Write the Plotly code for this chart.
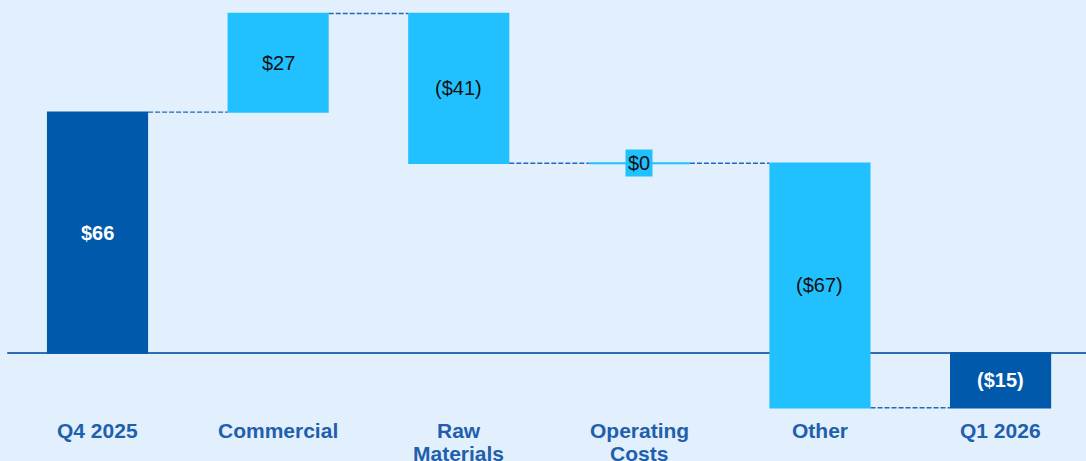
import plotly.graph_objects as go

# Bridge from Q4 2025 to Q1 2026 ($ millions)
categories = ["Q4 2025", "Commercial", "Raw<br>Materials", "Operating<br>Costs", "Other", "Q1 2026"]
measures = ["absolute", "relative", "relative", "relative", "relative", "total"]
values = [66, 27, -41, 0, -67, -15]
value_labels = ["$66", "$27", "($41)", "$0", "($67)", "($15)"]

DARK = "#0059AA"
CYAN = "#21C1FF"
AXIS_BLUE = "#2E6DB4"
CONNECTOR_BLUE = "#2468B8"
LABEL_BLUE = "#1F5FAD"
BG = "#E2EFFC"
BAR_W = 0.56

xs = list(range(len(categories)))

# running start/end of each bar
starts, ends = [], []
running = 0
for m, v in zip(measures, values):
    if m == "absolute":
        s, e = 0, v
        running = v
    elif m == "total":
        s, e = 0, running
    else:
        s, e = running, running + v
        running = e
    starts.append(s)
    ends.append(e)

fig = go.Figure()

fig.add_trace(go.Waterfall(
    x=xs,
    y=values,
    measure=measures,
    width=[BAR_W] * len(xs),
    increasing=dict(marker=dict(color=CYAN)),
    decreasing=dict(marker=dict(color=CYAN)),
    totals=dict(marker=dict(color=DARK)),
    connector=dict(mode="between", line=dict(color=CONNECTOR_BLUE, width=1.4, dash="5px,2px")),
    hoverinfo="skip",
    showlegend=False,
))

# zero-size steps drawn as a flat cyan line
for i, (s, e) in enumerate(zip(starts, ends)):
    if s == e and measures[i] == "relative":
        fig.add_trace(go.Scatter(
            x=[i - BAR_W / 2, i + BAR_W / 2], y=[e, e], mode="lines",
            line=dict(color=CYAN, width=2), hoverinfo="skip", showlegend=False,
        ))

# value labels centred in each bar
for i, lab in enumerate(value_labels):
    mid = (starts[i] + ends[i]) / 2
    dark = measures[i] != "relative"
    zero = starts[i] == ends[i]
    fig.add_annotation(
        x=i, y=mid, xref="x", yref="y", showarrow=False,
        text=f"<b>{lab}</b>" if dark else lab,
        font=dict(family="Liberation Sans, Arial, sans-serif", size=20,
                  color="#FFFFFF" if dark else "#111111"),
        bgcolor=CYAN if zero else None, borderpad=2 if zero else 0,
        xanchor="center", yanchor="middle",
    )

# category labels under the axis, one annotation per line
for i, cat in enumerate(categories):
    for k, line in enumerate(cat.split("<br>")):
        fig.add_annotation(
            x=i, y=-21.1, xref="x", yref="y", yshift=-23 * k, showarrow=False,
            text=f"<b>{line}</b>",
            font=dict(family="Liberation Sans, Arial, sans-serif", size=21, color=LABEL_BLUE),
            xanchor="center", yanchor="middle",
        )

# baseline, drawn beneath the bars
fig.add_shape(type="line", xref="x", yref="y", x0=-0.5, x1=5.6, y0=0, y1=0,
              line=dict(color=AXIS_BLUE, width=2), layer="below")

fig.update_layout(
    width=1086, height=461,
    margin=dict(l=0, r=0, t=0, b=0),
    paper_bgcolor=BG, plot_bgcolor=BG,
    xaxis=dict(range=[-0.540, 5.473], visible=False, fixedrange=True),
    yaxis=dict(range=[-29.59, 96.71], visible=False, fixedrange=True),
    showlegend=False,
)

fig.write_html("out.html")
